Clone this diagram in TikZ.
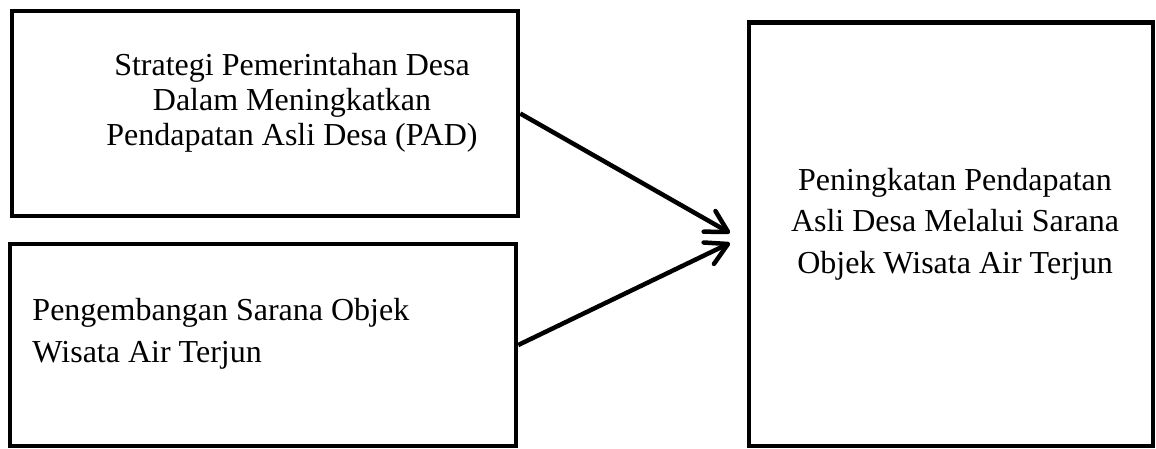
\documentclass[tikz,border=0pt]{standalone}
\usepackage{fontspec}
\setmainfont{Liberation Serif}
\usetikzlibrary{positioning,arrows.meta}
\tikzset{
  % --- boxes and their texts -------------------------------------------------
  panel/.style={draw,line width=1.8pt,inner sep=0pt},
  lbl/.style={inner sep=0pt,font=\fontsize{12.8}{14}\selectfont},
  lblwide/.style={inner sep=0pt,font=\fontsize{12.8}{16.6}\selectfont},
  % --- arrows ----------------------------------------------------------------
  flow/.style={-{Straight Barb[length=8.5pt,width=9.5pt,round]},line width=1.8pt},
}
\begin{document}
\begin{tikzpicture}[x=0.4pt, y=-0.4pt]
  \useasboundingbox (0,0) rectangle (1156,448);
  % --- the two source boxes ----------------------------------------------
  \node[panel,minimum width=202.4pt,minimum height=82pt]   (strat) at (265,113.5) {};
  \node[panel,minimum width=202.4pt,minimum height=80.8pt] (dev)   at (263,345)   {};
  % --- the result box ----------------------------------------------------
  \node[panel,minimum width=161.6pt,minimum height=169.4pt] (result) at (951,234.25) {};

  \node[lbl,align=center] (strattxt) at (292,103)
    {Strategi Pemerintahan Desa\\ Dalam Meningkatkan\\ Pendapatan Asli Desa (PAD)};
  \node[lblwide,align=left,anchor=west] (devtxt) at (32,334)
    {Pengembangan Sarana Objek\\ Wisata Air Terjun};
  \node[lblwide,align=center] (resulttxt) at (955,224)
    {Peningkatan Pendapatan\\ Asli Desa Melalui Sarana\\ Objek Wisata Air Terjun};

  % both arrows stop short of the result box
  \coordinate (tipa) at (730,233);
  \coordinate (tipb) at (730,243);
  \draw[flow] (strat.east) -- (tipa);
  \draw[flow] (dev.east) -- (tipb);
\end{tikzpicture}
\end{document}
